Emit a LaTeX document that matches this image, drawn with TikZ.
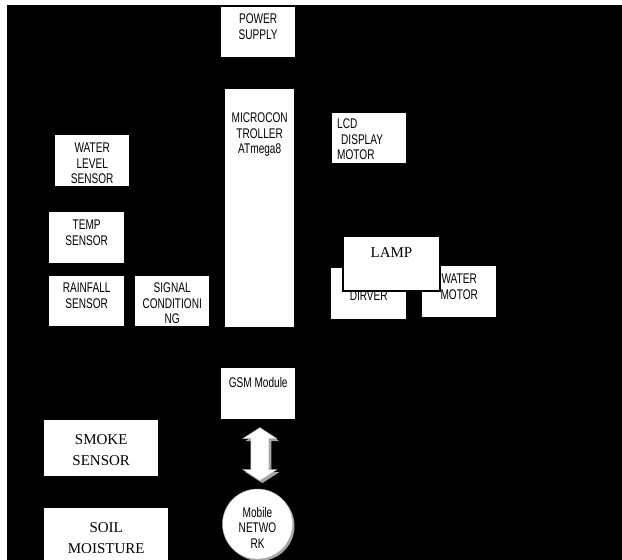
\documentclass[tikz,border=0pt]{standalone}
\usepackage{fontspec}
\newfontfamily\narrowsans[FakeStretch=0.72]{Liberation Sans}
\newfontfamily\timesfont{Liberation Serif}
\usetikzlibrary{calc, shadows}

\begin{document}
\begin{tikzpicture}[
  x=1pt, y=-1pt,
  blk/.style={fill=white, inner sep=0pt, anchor=north west},
  txt/.style={anchor=north, align=center, inner sep=0pt, yshift=-#1,
    font=\narrowsans\fontsize{14}{15.5}\selectfont},
  serif/.style={anchor=north, align=center, inner sep=0pt, yshift=-#1,
    font=\timesfont\fontsize{15}{21}\selectfont},
  dropgray/.style={general shadow={fill=gray!70, shadow xshift=2pt,
    shadow yshift=-2pt}},
]
  % -- Page and black ground --
  \useasboundingbox (0,0) rectangle (622,560);
  \fill[white] (0,0) rectangle (622,560);
  \fill[black] (7,5) rectangle (622,560);

  % -- Power and controller --
  \node[blk, minimum width=74pt, minimum height=50pt,
    label={[txt=7pt]north:POWER\\SUPPLY}] (pwr) at (221,7) {};
  \node[blk, minimum width=69pt, minimum height=238pt,
    label={[txt=24pt]north:MICROCON\\TROLLER\\ATmega8}] (mcu) at (225,89) {};

  % -- Sensors --
  \node[blk, minimum width=74pt, minimum height=51pt,
    label={[txt=8pt]north:WATER\\LEVEL\\SENSOR}] (wls) at (55,135) {};
  \node[blk, minimum width=75pt, minimum height=51pt,
    label={[txt=8pt]north:TEMP\\SENSOR}] (tmp) at (49,212) {};
  \node[blk, minimum width=75pt, minimum height=50pt,
    label={[txt=7pt]north:RAINFALL\\SENSOR}] (rain) at (49,276) {};
  \node[blk, minimum width=74pt, minimum height=50pt,
    label={[txt=7pt]north:SIGNAL\\CONDITIONI\\NG}] (sig) at (135,276) {};
  \node[blk, minimum width=114pt, minimum height=56pt,
    label={[serif=14pt]north:SMOKE\\SENSOR}] (smk) at (44,420) {};
  \node[blk, minimum width=124pt, minimum height=52pt,
    label={[serif=14pt]north:SOIL\\MOISTURE}] (soil) at (44,508) {};

  % -- Outputs --
  \node[blk, minimum width=74pt, minimum height=50pt,
    label={[txt=6pt, anchor=north west, align=left, xshift=5pt]north west:%
      LCD\\\hspace{4pt}DISPLAY\\MOTOR}] (lcd) at (332,113) {};
  \node[blk, minimum width=75pt, minimum height=51pt,
    label={[txt=23pt]north:DIRVER}] (drv) at (331,268) {};
  \node[blk, minimum width=74pt, minimum height=51pt,
    label={[txt=8pt]north:WATER\\MOTOR}] (wmot) at (422,266) {};
  \node[blk, draw=black, line width=2pt, minimum width=97pt, minimum height=55pt,
    label={[serif=12pt]north:LAMP}] (lamp) at (342,235) {};

  % -- GSM and network --
  \node[blk, minimum width=74pt, minimum height=51pt,
    label={[txt=9pt]north:GSM Module}] (gsm) at (221,368) {};
  \node[circle, fill=white, draw=gray!60, inner sep=0pt, minimum size=70pt,
    dropgray, label={[txt=18pt]north:Mobile\\NETWO\\RK}] (net) at (257.5,524) {};

  % -- Two-way link --
  \coordinate (arw) at ($(gsm.south)!0.5!(net.north)$);
  \begin{scope}[shift={(arw)}, xshift=2pt]
    \fill[gray!70, shift={(2.5,2.5)}]
      (0,-26.5) -- (17,-15.5) -- (9,-15.5) -- (9,15.5) -- (17,15.5)
      -- (0,26.5) -- (-17,15.5) -- (-9,15.5) -- (-9,-15.5) -- (-17,-15.5) -- cycle;
    \filldraw[fill=white, draw=gray!60]
      (0,-26.5) -- (17,-15.5) -- (9,-15.5) -- (9,15.5) -- (17,15.5)
      -- (0,26.5) -- (-17,15.5) -- (-9,15.5) -- (-9,-15.5) -- (-17,-15.5) -- cycle;
  \end{scope}
\end{tikzpicture}
\end{document}
